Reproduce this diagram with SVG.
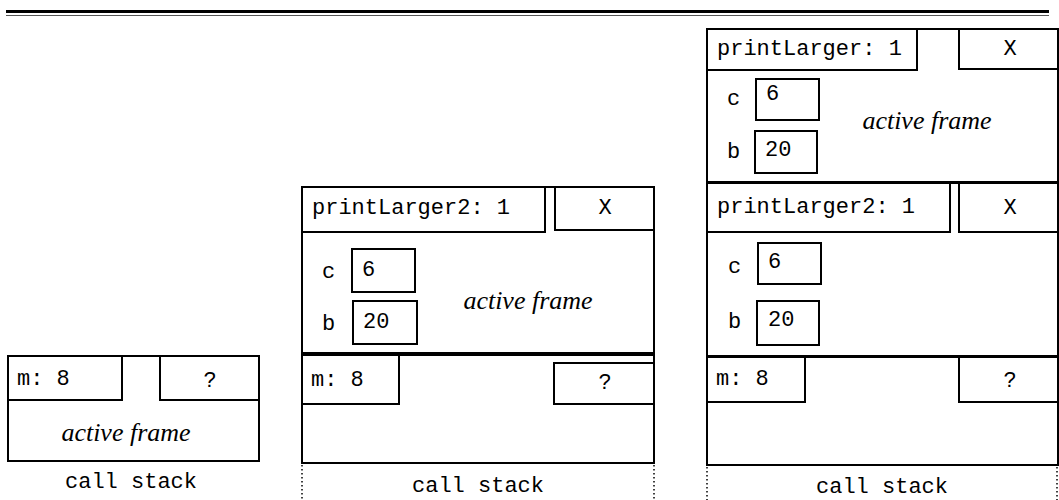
<svg xmlns="http://www.w3.org/2000/svg" width="1059" height="500" viewBox="0 0 1059 500">
  <style>
    .box { fill: none; stroke: #000; stroke-width: 2; }
    .mono { font-family: "Liberation Mono", "Courier New", monospace; font-size: 22px; fill: #000; }
    .ital { font-family: "Liberation Serif", "Times New Roman", serif; font-style: italic; font-size: 26px; fill: #000; }
    .dots { stroke: #000; stroke-width: 1.5; stroke-dasharray: 1.5 2.5; fill: none; }
    .mid { text-anchor: middle; }
  </style>
  <rect width="1059" height="500" fill="#fff"/>

  <!-- header rule -->
  <g id="header-rule">
    <line x1="6" y1="11.5" x2="1049" y2="11.5" stroke="#000" stroke-width="3"/>
    <line x1="6" y1="15.5" x2="1049" y2="15.5" stroke="#555" stroke-width="1.2"/>
  </g>

  <!-- stack 1: main only -->
  <g id="stack1">
    <g id="s1-main">
      <rect class="box" x="8" y="356" width="251" height="105"/>
      <rect class="box" x="8" y="356" width="114" height="44"/>
      <rect class="box" x="160" y="356" width="99" height="44"/>
      <text class="mono" x="17" y="385">m: 8</text>
      <text class="mono mid" x="210" y="387">?</text>
      <text class="ital mid" x="126" y="441">active frame</text>
    </g>
    <text class="mono mid" x="131" y="488">call stack</text>
  </g>

  <!-- stack 2: main + printLarger2 -->
  <g id="stack2">
    <g id="s2-printLarger2">
      <rect class="box" x="302" y="187" width="352" height="166"/>
      <rect class="box" x="302" y="187" width="243" height="45"/>
      <rect class="box" x="555" y="187" width="99" height="43"/>
      <text class="mono" x="312" y="214">printLarger2: 1</text>
      <text class="mono mid" x="605" y="214">X</text>
      <text class="mono" x="322" y="278">c</text>
      <rect class="box" x="352" y="249" width="63" height="43"/>
      <text class="mono" x="362" y="276">6</text>
      <text class="mono" x="322" y="330">b</text>
      <rect class="box" x="353" y="301" width="64" height="43"/>
      <text class="mono" x="363" y="328">20</text>
      <text class="ital mid" x="528" y="309">active frame</text>
    </g>
    <g id="s2-main">
      <rect class="box" x="302" y="355" width="352" height="108"/>
      <rect class="box" x="302" y="355" width="97" height="49"/>
      <rect class="box" x="554" y="363" width="100" height="41"/>
      <text class="mono" x="311" y="386">m: 8</text>
      <text class="mono mid" x="605" y="389">?</text>
    </g>
    <text class="mono mid" x="478" y="492">call stack</text>
  </g>

  <!-- stack 3: main + printLarger2 + printLarger -->
  <g id="stack3">
    <g id="s3-printLarger">
      <rect class="box" x="707" y="29" width="351" height="153"/>
      <rect class="box" x="707" y="29" width="210" height="41"/>
      <rect class="box" x="959" y="29" width="99" height="40"/>
      <text class="mono" x="717" y="55">printLarger: 1</text>
      <text class="mono mid" x="1010" y="55">X</text>
      <text class="mono" x="727" y="105">c</text>
      <rect class="box" x="756" y="79" width="63" height="41"/>
      <text class="mono" x="766" y="100">6</text>
      <text class="mono" x="727" y="158">b</text>
      <rect class="box" x="755" y="131" width="62" height="42"/>
      <text class="mono" x="765" y="156">20</text>
      <text class="ital mid" x="927" y="129">active frame</text>
    </g>
    <g id="s3-printLarger2">
      <rect class="box" x="707" y="183" width="351" height="173"/>
      <rect class="box" x="707" y="183" width="243" height="49"/>
      <rect class="box" x="959" y="183" width="99" height="49"/>
      <text class="mono" x="717" y="213">printLarger2: 1</text>
      <text class="mono mid" x="1010" y="214">X</text>
      <text class="mono" x="728" y="273">c</text>
      <rect class="box" x="758" y="243" width="63" height="41"/>
      <text class="mono" x="768" y="268">6</text>
      <text class="mono" x="728" y="328">b</text>
      <rect class="box" x="757" y="301" width="62" height="44"/>
      <text class="mono" x="768" y="326">20</text>
    </g>
    <g id="s3-main">
      <rect class="box" x="707" y="357" width="351" height="108"/>
      <rect class="box" x="707" y="357" width="98" height="45"/>
      <rect class="box" x="959" y="357" width="99" height="45"/>
      <text class="mono" x="716" y="385">m: 8</text>
      <text class="mono mid" x="1010" y="387">?</text>
    </g>
    <text class="mono mid" x="882" y="493">call stack</text>
  </g>

  <!-- dotted stack extents below the frames -->
  <g id="connectors">
    <line class="dots" x1="302" y1="465" x2="302" y2="500"/>
    <line class="dots" x1="654" y1="465" x2="654" y2="500"/>
    <line class="dots" x1="707" y1="467" x2="707" y2="500"/>
    <line class="dots" x1="1057" y1="467" x2="1057" y2="500"/>
  </g>
</svg>
